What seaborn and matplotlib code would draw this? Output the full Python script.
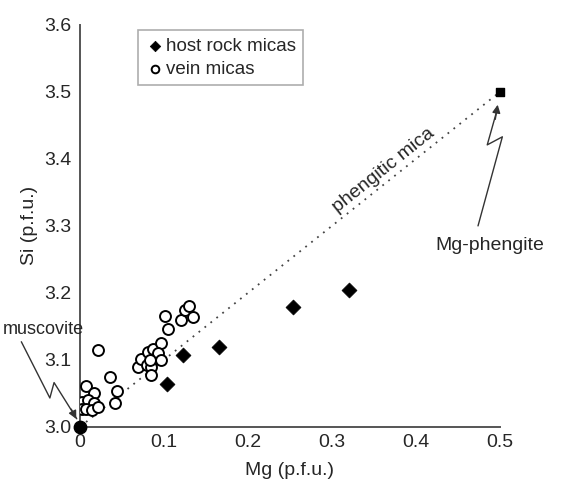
import numpy as np
import pandas as pd
import matplotlib
matplotlib.use('Agg')
import matplotlib.pyplot as plt
import seaborn as sns

# host rock micas (filled diamonds)
host_mg = [0.103, 0.123, 0.165, 0.254, 0.320]
host_si = [3.064, 3.107, 3.119, 3.179, 3.205]

# vein micas (open circles)
vein_mg = [0.0215, 0.036, 0.044, 0.041, 0.0067, 0.016, 0.0026, 0.010, 0.017, 0.002, 0.007, 0.014, 0.021,
           0.0685, 0.072, 0.081, 0.087, 0.096, 0.093, 0.096, 0.080, 0.084, 0.085, 0.083,
           0.1007, 0.1044, 0.1204, 0.1252, 0.1296, 0.134]
vein_si = [3.115, 3.074, 3.053, 3.036, 3.061, 3.050, 3.037, 3.040, 3.035, 3.027, 3.027, 3.025, 3.029,
           3.090, 3.101, 3.111, 3.116, 3.125, 3.110, 3.099, 3.092, 3.090, 3.078, 3.099,
           3.166, 3.146, 3.160, 3.175, 3.181, 3.164]

# end members
muscovite = (0.0, 3.0)
mg_phengite = (0.5, 3.5)

x_ticks = [0, 0.1, 0.2, 0.3, 0.4, 0.5]
x_labels = ['0', '0.1', '0.2', '0.3', '0.4', '0.5']
y_ticks = [3.0, 3.1, 3.2, 3.3, 3.4, 3.5, 3.6]

sns.set_style('white')
plt.rcParams['font.family'] = ['Liberation Sans', 'DejaVu Sans']

host = pd.DataFrame({'Mg': host_mg, 'Si': host_si})
vein = pd.DataFrame({'Mg': vein_mg, 'Si': vein_si})

fig, ax = plt.subplots(figsize=(5.68, 4.90), dpi=100)
fig.subplots_adjust(left=0.141, right=0.88, bottom=0.129, top=0.949)

ax.set_xlim(0, 0.5)
ax.set_ylim(3.0, 3.6)

# phengitic mica substitution line
ax.plot([muscovite[0], mg_phengite[0]], [muscovite[1], mg_phengite[1]],
        linestyle=(0, (1, 3.2)), color='#444444', lw=1.3, zorder=1)

sns.scatterplot(data=vein, x='Mg', y='Si', marker='o', s=62, facecolor='white',
                edgecolor='black', linewidth=1.4, ax=ax, label='vein micas', zorder=3)
sns.scatterplot(data=host, x='Mg', y='Si', marker='D', s=58, color='black',
                edgecolor='black', linewidth=0.5, ax=ax, label='host rock micas', zorder=4)

ax.scatter([muscovite[0]], [muscovite[1]], s=80, color='black', zorder=5, clip_on=False)
ax.scatter([mg_phengite[0]], [mg_phengite[1]], s=40, marker='s', color='black', zorder=5, clip_on=False)

ax.set_xticks(x_ticks)
ax.set_xticklabels(x_labels)
ax.set_yticks(y_ticks)
ax.set_yticklabels(['%.1f' % v for v in y_ticks])
ax.tick_params(axis='x', direction='in', length=4, width=1, color='#555555', labelsize=14, pad=5)
ax.tick_params(axis='y', direction='out', length=4, width=1, color='#555555', labelsize=14, pad=2)
for side in ['top', 'right']:
    ax.spines[side].set_visible(False)
for side in ['left', 'bottom']:
    ax.spines[side].set_color('#555555')
    ax.spines[side].set_linewidth(1.4)

ax.set_xlabel('Mg (p.f.u.)', fontsize=14, labelpad=8)
ax.set_ylabel('Si (p.f.u.)', fontsize=14, labelpad=5)

handles, labels = ax.get_legend_handles_labels()
leg = ax.legend(handles[::-1], labels[::-1], loc='upper left', bbox_to_anchor=(0.115, 1.01),
                frameon=True, fancybox=False, edgecolor='#999999', fontsize=13.5,
                handletextpad=0.1, handlelength=1.0, markerscale=0.7, borderpad=0.4,
                labelspacing=0.3)
leg.get_frame().set_linewidth(1.2)

# rotate label along the line
p1 = ax.transData.transform(muscovite)
p2 = ax.transData.transform(mg_phengite)
angle = np.degrees(np.arctan2(p2[1] - p1[1], p2[0] - p1[0]))
ax.text(0.362, 3.383, 'phengitic mica', rotation=angle, rotation_mode='anchor',
        ha='center', va='center', fontsize=14)

ax.text(-0.044, 3.145, 'muscovite', ha='center', va='center', fontsize=13, clip_on=False)
ax.plot([-0.070, -0.036, -0.031, -0.004], [3.127, 3.043, 3.066, 3.012],
        color='#333333', lw=1, clip_on=False)
ax.annotate('', xy=(-0.003, 3.008), xytext=(-0.012, 3.03),
            arrowprops=dict(arrowstyle='-|>', color='#333333', lw=1, mutation_scale=12),
            annotation_clip=False)

ax.text(0.488, 3.27, 'Mg-phengite', ha='center', va='center', fontsize=14, clip_on=False)
ax.plot([0.474, 0.503, 0.485, 0.496], [3.30, 3.433, 3.421, 3.47],
        color='#333333', lw=1, clip_on=False)
ax.annotate('', xy=(0.498, 3.485), xytext=(0.494, 3.455),
            arrowprops=dict(arrowstyle='-|>', color='#333333', lw=1, mutation_scale=12),
            annotation_clip=False)

plt.savefig('out.png', dpi=100)
